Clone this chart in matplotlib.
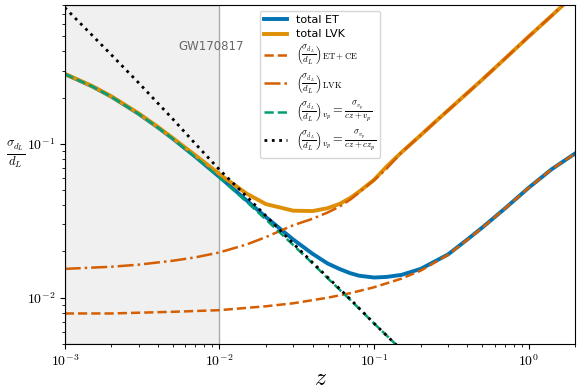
import matplotlib
matplotlib.use('Agg')
import matplotlib.pyplot as plt
from matplotlib.ticker import FuncFormatter, NullFormatter
import numpy as np

plt.rcParams['mathtext.fontset'] = 'cm'

# values (redshift z vs sigma_dL/dL)
z_et = [1e-3, 1.5e-3, 2e-3, 3e-3, 4e-3, 5e-3, 7e-3, 1e-2, 1.5e-2, 2e-2, 3e-2, 4e-2, 5e-2,
        6e-2, 7e-2, 8e-2, 0.1, 0.12, 0.15, 0.2, 0.3, 0.4, 0.5, 0.7, 1.0, 1.4, 2.0]
total_et = [0.285, 0.237, 0.203, 0.157, 0.128, 0.108, 0.0824, 0.061, 0.0429, 0.0334,
            0.0239, 0.0193, 0.0167, 0.01535, 0.01444, 0.0139, 0.01353, 0.01365, 0.01407,
            0.0154, 0.0191, 0.0239, 0.0286, 0.0380, 0.0520, 0.0683, 0.087]

z_lvk = [1e-3, 1.5e-3, 2e-3, 3e-3, 4e-3, 5e-3, 7e-3, 1e-2, 1.5e-2, 2e-2, 3e-2, 4e-2, 5e-2,
         6e-2, 7e-2, 8e-2, 0.1, 0.12, 0.15, 0.2, 0.25, 0.3, 0.4, 0.5, 0.7, 1.0, 1.4, 2.0]
total_lvk = [0.2855, 0.238, 0.204, 0.158, 0.129, 0.109, 0.0843, 0.0636, 0.0475, 0.0406,
             0.0368, 0.0366, 0.0382, 0.0408, 0.0445, 0.0490, 0.0585, 0.071, 0.088, 0.114,
             0.140, 0.165, 0.214, 0.262, 0.358, 0.50, 0.68, 0.95]

z_etce = [1e-3, 2e-3, 5e-3, 1e-2, 2e-2, 3e-2, 5e-2, 7e-2, 0.1, 0.15, 0.2, 0.3, 0.4, 0.5,
          0.7, 1.0, 1.4, 2.0]
etce = [0.0079, 0.0079, 0.0081, 0.0083, 0.0088, 0.0092, 0.0100, 0.0107, 0.0117, 0.0133,
        0.0150, 0.0190, 0.0238, 0.0285, 0.0380, 0.0520, 0.0683, 0.087]

z_lvk_only = [1e-3, 2e-3, 3e-3, 5e-3, 7e-3, 1e-2, 1.5e-2, 2e-2, 3e-2, 4e-2, 5e-2, 6e-2,
              7e-2, 8e-2, 0.1, 0.12, 0.15, 0.2, 0.25, 0.3, 0.4, 0.5, 0.7, 1.0, 1.4, 2.0]
lvk_only = [0.0154, 0.0159, 0.0164, 0.0174, 0.0183, 0.0197, 0.0222, 0.0248, 0.0296, 0.0326,
            0.0358, 0.0392, 0.0434, 0.0483, 0.0581, 0.0688, 0.0879, 0.114, 0.140, 0.165,
            0.214, 0.262, 0.358, 0.50, 0.68, 0.95]

z_vp = [1e-3, 1.5e-3, 2e-3, 3e-3, 4e-3, 5e-3, 7e-3, 1e-2, 1.5e-2, 2e-2, 3e-2, 4e-2, 5e-2,
        7e-2, 0.1, 0.12, 0.14]
vp = [0.285, 0.237, 0.203, 0.157, 0.128, 0.108, 0.082, 0.0605, 0.042, 0.0322, 0.022,
      0.0167, 0.0134, 0.0097, 0.0068, 0.0057, 0.0049]

z_vp_cz = [1e-3, 1.5e-3, 2e-3, 3e-3, 5e-3, 7e-3, 1e-2, 1.5e-2, 2e-2, 3e-2, 5e-2, 7e-2,
           0.1, 0.14]
vp_cz = [0.77, 0.51, 0.38, 0.25, 0.145, 0.100, 0.068, 0.0455, 0.034, 0.0225, 0.0136,
         0.0098, 0.0068, 0.0049]

blue = '#0173B2'
orange = '#DE8F05'
red = '#D55E00'
green = '#029E73'


def main():
    fig = plt.figure(figsize=(5.81, 3.92), dpi=100)
    ax = fig.add_axes([0.1114, 0.1224, 0.879, 0.8648])

    ax.axvspan(1e-3, 1e-2, facecolor='#f0f0f0', edgecolor='#aaaaaa', lw=1, zorder=0)
    ax.text(0.0088, 0.43, 'GW170817', ha='center', va='center', color='#666666', fontsize=8.5)

    ax.plot(z_et, total_et, color=blue, lw=2.8, label='total ET')
    ax.plot(z_lvk, total_lvk, color=orange, lw=2.8, label='total LVK')
    ax.plot(z_etce, etce, color=red, lw=1.8, ls='--',
            label=r'$\left(\frac{\sigma_{d_L}}{d_L}\right)_{\rm ET+CE}$')
    ax.plot(z_lvk_only, lvk_only, color=red, lw=1.8, ls='-.',
            label=r'$\left(\frac{\sigma_{d_L}}{d_L}\right)_{\rm LVK}$')
    ax.plot(z_vp, vp, color=green, lw=1.8, ls='--',
            label=r'$\left(\frac{\sigma_{d_L}}{d_L}\right)_{v_p} = \frac{\sigma_{v_p}}{cz+v_p}$')
    ax.plot(z_vp_cz, vp_cz, color='black', lw=2, ls=':',
            label=r'$\left(\frac{\sigma_{d_L}}{d_L}\right)_{v_p} = \frac{\sigma_{v_p}}{cz+cz_p}$')

    ax.set_xscale('log')
    ax.set_yscale('log')
    ax.set_xlim(1e-3, 2)
    ax.set_ylim(5e-3, 0.8)

    fmt = FuncFormatter(lambda v, pos: r'$10^{%d}$' % int(round(np.log10(v))))
    ax.xaxis.set_major_formatter(fmt)
    ax.yaxis.set_major_formatter(fmt)
    ax.xaxis.set_minor_formatter(NullFormatter())
    ax.yaxis.set_minor_formatter(NullFormatter())
    ax.tick_params(labelsize=10)

    ax.set_xlabel(r'$z$', fontsize=17, va='center')
    ax.xaxis.set_label_coords(0.5, -0.1)
    fig.text(0.0275, 0.605, r'$\frac{\sigma_{d_L}}{d_L}$', fontsize=13, ha='center', va='center')

    leg = ax.legend(loc='upper center', fontsize=8, labelspacing=0.4)
    for t in leg.get_texts()[2:]:
        t.set_fontsize(9)

    fig.savefig('out.png', dpi=100)


if __name__ == '__main__':
    main()
